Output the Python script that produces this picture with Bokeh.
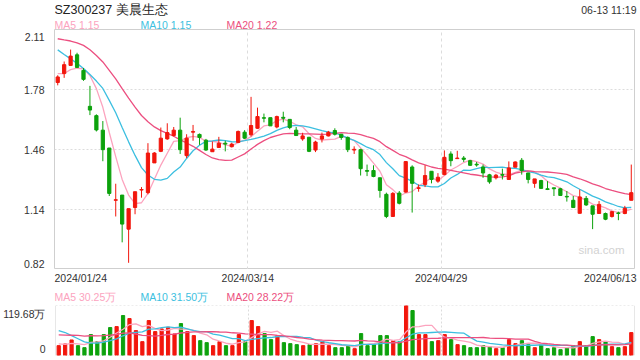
import numpy as np
from bokeh.plotting import figure
from bokeh.models import Range1d, FixedTicker, Span, ColumnDataSource
from bokeh.core.properties import value
from bokeh.layouts import column
from bokeh.embed import file_html
from bokeh.resources import INLINE

# ---------------- data ----------------
title = "SZ300237 美晨生态"
stamp = "06-13 11:19"
date_labels = ["2024/01/24", "2024/03/14", "2024/04/29", "2024/06/13"]
price_grid_vals = [1.1425, 1.465, 1.7875]
price_tick_text = ["0.82", "1.14", "1.46", "1.78", "2.11"]
ma_price_text = ["MA5 1.15", "MA10 1.15", "MA20 1.22"]
ma_vol_text = ["MA5 30.25万", "MA10 31.50万", "MA20 28.22万"]
vol_max = 119.68
vol_tick_text = ["0", "119.68万"]

open_ = [1.825, 1.873, 1.917, 1.974, 1.890, 1.697, 1.647, 1.569, 1.473, 1.192,
         1.220, 1.037, 1.153, 1.247, 1.233, 1.393, 1.455, 1.522, 1.540, 1.569,
         1.432, 1.558, 1.546, 1.515, 1.453, 1.476, 1.499, 1.480, 1.503, 1.558,
         1.544, 1.579, 1.636, 1.636, 1.586, 1.638, 1.627, 1.569, 1.522, 1.531,
         1.462, 1.521, 1.538, 1.567, 1.547, 1.530, 1.462, 1.464, 1.352, 1.352,
         1.313, 1.224, 1.105, 1.231, 1.236, 1.371, 1.256, 1.277, 1.348, 1.295,
         1.330, 1.441, 1.416, 1.419, 1.405, 1.386, 1.371, 1.329, 1.313, 1.330,
         1.304, 1.370, 1.407, 1.339, 1.283, 1.298, 1.254, 1.259, 1.254, 1.213,
         1.192, 1.122, 1.202, 1.162, 1.121, 1.121, 1.105, 1.124, 1.121, 1.192]
close = [1.855, 1.921, 1.967, 1.906, 1.842, 1.677, 1.570, 1.464, 1.229, 1.195,
         1.064, 1.147, 1.238, 1.250, 1.446, 1.446, 1.526, 1.556, 1.569, 1.464,
         1.526, 1.562, 1.530, 1.462, 1.467, 1.499, 1.494, 1.494, 1.562, 1.526,
         1.594, 1.642, 1.633, 1.592, 1.642, 1.633, 1.583, 1.540, 1.538, 1.455,
         1.505, 1.538, 1.558, 1.547, 1.530, 1.464, 1.466, 1.362, 1.348, 1.320,
         1.245, 1.105, 1.229, 1.176, 1.400, 1.283, 1.259, 1.325, 1.304, 1.316,
         1.423, 1.405, 1.419, 1.412, 1.380, 1.382, 1.339, 1.291, 1.327, 1.327,
         1.366, 1.398, 1.352, 1.304, 1.307, 1.256, 1.250, 1.254, 1.218, 1.210,
         1.153, 1.210, 1.167, 1.117, 1.170, 1.090, 1.131, 1.121, 1.149, 1.233]
high = [1.864, 1.938, 2.002, 1.985, 1.903, 1.807, 1.654, 1.618, 1.473, 1.281,
        1.220, 1.147, 1.238, 1.263, 1.499, 1.451, 1.583, 1.606, 1.586, 1.636,
        1.547, 1.597, 1.551, 1.522, 1.508, 1.533, 1.512, 1.501, 1.567, 1.569,
        1.748, 1.690, 1.658, 1.636, 1.647, 1.668, 1.627, 1.586, 1.555, 1.531,
        1.512, 1.556, 1.565, 1.579, 1.547, 1.535, 1.482, 1.469, 1.384, 1.380,
        1.313, 1.233, 1.236, 1.242, 1.403, 1.380, 1.277, 1.380, 1.348, 1.338,
        1.460, 1.455, 1.458, 1.430, 1.409, 1.398, 1.384, 1.334, 1.334, 1.362,
        1.401, 1.401, 1.419, 1.339, 1.307, 1.302, 1.295, 1.259, 1.259, 1.242,
        1.215, 1.250, 1.215, 1.162, 1.188, 1.126, 1.135, 1.131, 1.162, 1.384]
low = [1.810, 1.850, 1.914, 1.903, 1.834, 1.650, 1.562, 1.402, 1.215, 1.105,
       0.966, 0.856, 1.117, 1.206, 1.224, 1.393, 1.451, 1.517, 1.535, 1.441,
       1.419, 1.512, 1.490, 1.458, 1.453, 1.473, 1.455, 1.476, 1.499, 1.521,
       1.535, 1.576, 1.611, 1.592, 1.579, 1.611, 1.574, 1.540, 1.512, 1.451,
       1.451, 1.503, 1.535, 1.540, 1.517, 1.451, 1.441, 1.325, 1.322, 1.316,
       1.206, 1.096, 1.105, 1.170, 1.233, 1.126, 1.238, 1.263, 1.283, 1.286,
       1.327, 1.375, 1.416, 1.398, 1.377, 1.373, 1.313, 1.281, 1.304, 1.304,
       1.304, 1.370, 1.330, 1.283, 1.259, 1.256, 1.247, 1.215, 1.215, 1.185,
       1.153, 1.122, 1.162, 1.037, 1.121, 1.085, 1.099, 1.085, 1.117, 1.192]
# closes of the 19 sessions before the window (estimated from the MA curves)
pre_close = [2.05, 2.08, 2.10, 2.12, 2.15, 2.18, 2.16, 2.13, 2.12, 2.11,
             2.17, 2.20, 2.15, 2.12, 2.00, 1.92, 1.86, 1.87, 1.86]

# volume in 万
volume = [23.6, 27.6, 37.2, 23.6, 18.8, 50.0, 33.2, 50.0, 66.8, 69.2,
          95.6, 88.4, 59.6, 33.2, 83.6, 57.2, 63.6, 67.6, 51.6, 76.4,
          57.2, 47.6, 35.6, 30.8, 23.6, 33.2, 23.6, 23.6, 50.0, 33.2,
          83.6, 69.2, 52.4, 38.0, 47.6, 30.8, 28.4, 26.0, 23.6, 26.0,
          28.4, 33.2, 23.6, 18.8, 18.8, 23.6, 16.4, 52.4, 23.6, 26.0,
          47.6, 47.6, 35.6, 33.2, 119.6, 107.6, 50.0, 50.0, 33.2, 35.6,
          50.0, 38.0, 26.0, 23.6, 18.8, 18.8, 23.6, 21.2, 16.4, 18.8,
          38.0, 28.4, 35.6, 26.0, 18.8, 26.0, 16.4, 18.8, 14.0, 18.8,
          23.6, 33.2, 23.6, 45.2, 38.0, 33.2, 21.2, 18.8, 21.2, 54.8]
pre_volume = [33.2, 45.2, 31.6, 49.2, 37.2, 41.2, 34.8, 39.6, 42.8, 33.2,
              73.2, 113.2, 97.2, 93.2, 81.2, 33.2, 25.2, 29.2, 26.8]

# ---------------- styles ----------------
RED = "#f2160c"
GREEN = "#0ca20c"
MA_COLORS = ["#fca3be", "#3cbfe0", "#ec4f80"]
FONT = "Liberation Sans"
GRID = "#dcdcdc"
BORDER = "#cfcfcf"
TXT = "#333333"
W = 640
LEFT, RIGHT = 54, 6


def sma(pre, vals, n):
    arr = np.array(pre + vals, dtype=float)
    k = len(pre)
    return [float(arr[i + k - n + 1:i + k + 1].mean()) for i in range(len(vals))]


def strip(h):
    s = figure(width=W, height=h, x_range=Range1d(0, W), y_range=Range1d(h, 0),
               output_backend="svg", toolbar_location=None, min_border=0, frame_align=False)
    s.min_border_left = s.min_border_right = s.min_border_top = s.min_border_bottom = 0
    s.axis.visible = False
    s.grid.visible = False
    s.outline_line_color = None
    return s


def txt(p, xs, ys, texts, align, size="10.5px", color=TXT):
    p.text(x=xs, y=ys, text=texts, text_align=align, text_baseline="middle",
           text_font=value(FONT), text_font_size=value(size), text_color=color)


n = len(close)
xs = [i + 0.5 for i in range(n)]
colors = [RED if c >= o else GREEN for o, c in zip(open_, close)]
src = ColumnDataSource(dict(
    x=xs, top=[max(o, c) for o, c in zip(open_, close)],
    bottom=[min(o, c) for o, c in zip(open_, close)],
    high=high, low=low, color=colors, vol=volume))

# ---------------- header strip ----------------
head = strip(29)
txt(head, [LEFT], [9], [title], "left", "12.5px", "#222222")
txt(head, [W - 4], [9], [stamp], "right")
for t, col, xo in zip(ma_price_text, MA_COLORS, [LEFT, 140, 226]):
    txt(head, [xo], [24], [t], "left", "10.5px", col)

# ---------------- main price panel ----------------
y0, y1 = 0.82, 2.11
p1 = figure(width=W, height=240, x_range=Range1d(0, n), y_range=Range1d(y0, y1),
            output_backend="svg", toolbar_location=None, frame_align=False,
            min_border_left=LEFT, min_border_right=RIGHT, min_border_top=0, min_border_bottom=0)
p1.outline_line_color = BORDER
p1.xaxis.visible = False
px_per_unit = 240 / (y1 - y0)
edge_top = y1 - 7 / px_per_unit      # label of the top tick sits just inside the frame
edge_bot = y0 + 6 / px_per_unit
ytick_pos = [edge_bot] + price_grid_vals + [edge_top]
p1.yaxis.ticker = FixedTicker(ticks=ytick_pos)
p1.yaxis.major_label_overrides = {v: t for v, t in zip(ytick_pos, price_tick_text)}
p1.yaxis.axis_line_color = None
p1.yaxis.major_tick_line_color = None
p1.yaxis.minor_tick_line_color = None
p1.yaxis.major_label_standoff = 4
p1.yaxis.major_label_text_font = FONT
p1.yaxis.major_label_text_font_size = "10.5px"
p1.yaxis.major_label_text_color = TXT
p1.ygrid.ticker = FixedTicker(ticks=price_grid_vals)
p1.ygrid.grid_line_color = GRID
p1.ygrid.grid_line_dash = "2 2"
p1.xgrid.ticker = FixedTicker(ticks=[30, 60])
p1.xgrid.grid_line_color = GRID
p1.xgrid.grid_line_dash = "3 3"

ma_price = [sma(pre_close, close, k) for k in (5, 10, 20)]
for ma, col in zip(ma_price, MA_COLORS):
    p1.line(xs, ma, line_color=col, line_width=1.3)

p1.segment(x0="x", y0="high", x1="x", y1="low", color="color", line_width=1, source=src)
p1.vbar(x="x", top="top", bottom="bottom", width=0.5, fill_color="color",
        line_color="color", line_width=1, source=src)
p1.text(x=[n], y=[y0], text=["sina.com"], x_offset=-10, y_offset=-20, text_align="right",
        text_baseline="middle", text_font=value(FONT), text_font_size=value("11.5px"),
        text_color="#d2d2d2")

# ---------------- middle strip: dates + volume MA legend ----------------
mid = strip(36)
slot = (W - LEFT - RIGHT) / n
txt(mid, [LEFT], [8], [date_labels[0]], "left")
txt(mid, [LEFT + 30 * slot, LEFT + 60 * slot], [8, 8], date_labels[1:3], "center")
txt(mid, [W - 4], [8], [date_labels[3]], "right")
for t, col, xo in zip(ma_vol_text, MA_COLORS, [LEFT, 140, 226]):
    txt(mid, [xo], [27], [t], "left", "10.5px", col)

# ---------------- volume panel ----------------
p2 = figure(width=W, height=55, x_range=p1.x_range, y_range=Range1d(0, vol_max),
            output_backend="svg", toolbar_location=None, frame_align=False,
            min_border_left=LEFT, min_border_right=RIGHT, min_border_top=0, min_border_bottom=5)
p2.outline_line_color = None
p2.xaxis.visible = False
vpx = 50 / vol_max
vtick_pos = [7 / vpx, vol_max - 8 / vpx]
p2.yaxis.ticker = FixedTicker(ticks=vtick_pos)
p2.yaxis.major_label_overrides = {v: t for v, t in zip(vtick_pos, vol_tick_text)}
p2.yaxis.axis_line_color = None
p2.yaxis.major_tick_line_color = None
p2.yaxis.minor_tick_line_color = None
p2.yaxis.major_label_standoff = 4
p2.yaxis.major_label_text_font = FONT
p2.yaxis.major_label_text_font_size = "10.5px"
p2.yaxis.major_label_text_color = TXT
p2.xgrid.visible = False
p2.ygrid.visible = False
for xv in (0, n):
    p2.add_layout(Span(location=xv, dimension="height", line_color=BORDER, line_width=1))
for xv in (30, 60):
    p2.add_layout(Span(location=xv, dimension="height", line_color=GRID, line_width=1, line_dash="2 2"))
for yv in (0, vol_max):
    p2.add_layout(Span(location=yv, dimension="width", line_color=GRID, line_width=1, line_dash="2 2"))

p2.vbar(x="x", top="vol", bottom=0, width=0.5, fill_color="color", line_color="color",
        line_width=1, source=src)
ma_vol = [sma(pre_volume, volume, k) for k in (5, 10, 20)]
for ma, col in zip(ma_vol, MA_COLORS):
    p2.line(xs, ma, line_color=col, line_width=1.3)

layout = column(head, p1, mid, p2)
open("out.html", "w").write(file_html(layout, INLINE))
